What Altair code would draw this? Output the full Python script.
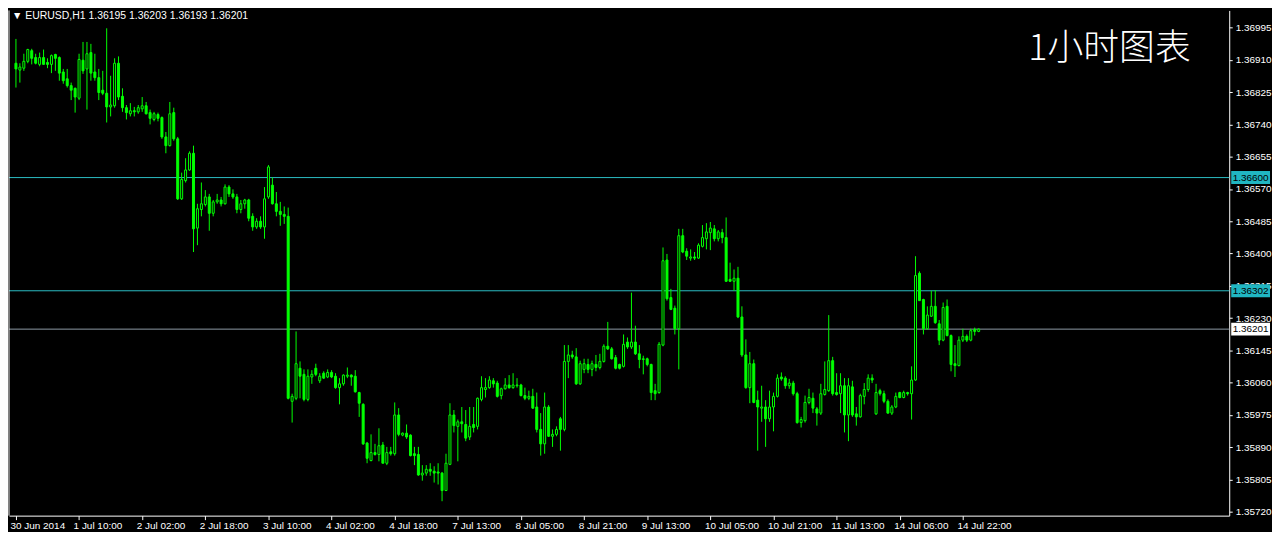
import json
import altair as alt
import pandas as pd

# ---------------- data (EURUSD H1) ----------------
opens = [
    1.36901, 1.36883, 1.36888, 1.36906, 1.36934, 1.36916, 1.36898, 1.36916, 1.36903, 1.36898,
    1.36924, 1.36916, 1.36878, 1.36860, 1.36842, 1.36835, 1.36809, 1.36909, 1.36886, 1.36929,
    1.36878, 1.36863, 1.36830, 1.36822, 1.36786, 1.36789, 1.36901, 1.36814, 1.36784, 1.36768,
    1.36776, 1.36773, 1.36781, 1.36789, 1.36771, 1.36753, 1.36766, 1.36758, 1.36707, 1.36684,
    1.36771, 1.36702, 1.36544, 1.36592, 1.36620, 1.36664, 1.36467, 1.36516, 1.36529, 1.36549,
    1.36506, 1.36536, 1.36541, 1.36531, 1.36575, 1.36557, 1.36549, 1.36516, 1.36531, 1.36541,
    1.36498, 1.36470, 1.36485, 1.36470, 1.36549, 1.36580, 1.36531, 1.36511, 1.36503, 1.36498,
    1.36011, 1.36019, 1.36098, 1.36082, 1.36016, 1.36075, 1.36098, 1.36065, 1.36085, 1.36075,
    1.36087, 1.36077, 1.36047, 1.36057, 1.36077, 1.36080, 1.36077, 1.36034, 1.36003, 1.35901,
    1.35855, 1.35876, 1.35871, 1.35896, 1.35848, 1.35878, 1.35873, 1.35975, 1.35922, 1.35927,
    1.35922, 1.35873, 1.35871, 1.35817, 1.35822, 1.35832, 1.35827, 1.35825, 1.35822, 1.35776,
    1.35845, 1.35975, 1.35945, 1.35957, 1.35950, 1.35917, 1.35950, 1.35945, 1.36016, 1.36042,
    1.36047, 1.36065, 1.36059, 1.36026, 1.36044, 1.36054, 1.36047, 1.36052, 1.36054, 1.36026,
    1.36019, 1.36024, 1.35996, 1.35937, 1.35899, 1.35996, 1.35919, 1.35924, 1.35965, 1.35937,
    1.36116, 1.36133, 1.36128, 1.36057, 1.36095, 1.36108, 1.36095, 1.36108, 1.36100, 1.36116,
    1.36156, 1.36149, 1.36126, 1.36108, 1.36103, 1.36167, 1.36154, 1.36167, 1.36136, 1.36121,
    1.36123, 1.36108, 1.36039, 1.36034, 1.36159, 1.36383, 1.36284, 1.36256, 1.36202, 1.36447,
    1.36406, 1.36388, 1.36391, 1.36388, 1.36419, 1.36439, 1.36455, 1.36465, 1.36439, 1.36455,
    1.36442, 1.36332, 1.36327, 1.36335, 1.36233, 1.36133, 1.36047, 1.36110, 1.36014, 1.35993,
    1.35996, 1.35965, 1.35996, 1.36024, 1.36075, 1.36072, 1.36052, 1.36059, 1.36031, 1.35955,
    1.35960, 1.36008, 1.36019, 1.35991, 1.35980, 1.36029, 1.36039, 1.36118, 1.36034, 1.36031,
    1.36052, 1.35975, 1.36049, 1.35978, 1.35970, 1.36024, 1.36042, 1.36072, 1.35978, 1.36039,
    1.36031, 1.36011, 1.35980, 1.35996, 1.36034, 1.36021, 1.36034, 1.36031, 1.36067, 1.36348,
    1.36279, 1.36202, 1.36235, 1.36261, 1.36215, 1.36172, 1.36261, 1.36184, 1.36110, 1.36105,
    1.36172, 1.36182, 1.36172, 1.36200, 1.36195,
]
highs = [
    1.36965, 1.36901, 1.36926, 1.36939, 1.36939, 1.36926, 1.36929, 1.36937, 1.36914, 1.36924,
    1.36926, 1.36919, 1.36886, 1.36886, 1.36850, 1.36837, 1.36926, 1.36957, 1.36957, 1.36952,
    1.36926, 1.36886, 1.36881, 1.36993, 1.36868, 1.36914, 1.36919, 1.36835, 1.36791, 1.36796,
    1.36786, 1.36791, 1.36812, 1.36799, 1.36779, 1.36773, 1.36771, 1.36761, 1.36720, 1.36799,
    1.36784, 1.36707, 1.36613, 1.36651, 1.36669, 1.36684, 1.36531, 1.36587, 1.36567, 1.36557,
    1.36541, 1.36557, 1.36549, 1.36582, 1.36580, 1.36569, 1.36557, 1.36541, 1.36544, 1.36544,
    1.36506, 1.36493, 1.36498, 1.36575, 1.36633, 1.36600, 1.36562, 1.36536, 1.36524, 1.36521,
    1.36031, 1.36195, 1.36116, 1.36095, 1.36095, 1.36093, 1.36110, 1.36085, 1.36090, 1.36095,
    1.36093, 1.36085, 1.36072, 1.36082, 1.36100, 1.36082, 1.36093, 1.36036, 1.36006, 1.35904,
    1.35924, 1.35899, 1.35940, 1.35904, 1.35891, 1.35891, 1.36008, 1.35993, 1.35929, 1.35950,
    1.35924, 1.35891, 1.35891, 1.35843, 1.35843, 1.35848, 1.35840, 1.35848, 1.35825, 1.35873,
    1.36006, 1.35988, 1.35963, 1.35996, 1.35988, 1.35996, 1.35996, 1.36021, 1.36077, 1.36072,
    1.36077, 1.36072, 1.36065, 1.36047, 1.36072, 1.36080, 1.36085, 1.36072, 1.36057, 1.36047,
    1.36039, 1.36044, 1.36034, 1.35980, 1.36034, 1.36001, 1.35937, 1.35945, 1.35970, 1.36159,
    1.36159, 1.36144, 1.36151, 1.36118, 1.36123, 1.36123, 1.36118, 1.36133, 1.36136, 1.36161,
    1.36220, 1.36154, 1.36133, 1.36110, 1.36187, 1.36179, 1.36297, 1.36210, 1.36159, 1.36131,
    1.36126, 1.36110, 1.36057, 1.36167, 1.36416, 1.36399, 1.36307, 1.36263, 1.36465, 1.36465,
    1.36414, 1.36411, 1.36404, 1.36427, 1.36475, 1.36480, 1.36483, 1.36475, 1.36462, 1.36465,
    1.36495, 1.36376, 1.36358, 1.36365, 1.36261, 1.36174, 1.36141, 1.36121, 1.36039, 1.36052,
    1.36014, 1.36039, 1.36034, 1.36082, 1.36087, 1.36077, 1.36070, 1.36065, 1.36036, 1.35970,
    1.36026, 1.36044, 1.36034, 1.35996, 1.36057, 1.36116, 1.36238, 1.36128, 1.36085, 1.36085,
    1.36072, 1.36072, 1.36065, 1.35996, 1.36031, 1.36059, 1.36082, 1.36082, 1.36057, 1.36044,
    1.36039, 1.36016, 1.36001, 1.36034, 1.36036, 1.36039, 1.36036, 1.36103, 1.36393, 1.36353,
    1.36281, 1.36261, 1.36302, 1.36304, 1.36225, 1.36271, 1.36279, 1.36187, 1.36159, 1.36182,
    1.36202, 1.36187, 1.36202, 1.36205, 1.36203,
]
lows = [
    1.36837, 1.36850, 1.36881, 1.36901, 1.36898, 1.36898, 1.36893, 1.36898, 1.36888, 1.36875,
    1.36881, 1.36855, 1.36847, 1.36837, 1.36804, 1.36771, 1.36804, 1.36873, 1.36779, 1.36855,
    1.36855, 1.36804, 1.36817, 1.36745, 1.36761, 1.36784, 1.36804, 1.36773, 1.36753, 1.36761,
    1.36761, 1.36768, 1.36773, 1.36766, 1.36740, 1.36748, 1.36748, 1.36702, 1.36664, 1.36682,
    1.36697, 1.36541, 1.36541, 1.36587, 1.36618, 1.36404, 1.36422, 1.36498, 1.36524, 1.36460,
    1.36498, 1.36531, 1.36524, 1.36529, 1.36549, 1.36544, 1.36506, 1.36506, 1.36518, 1.36485,
    1.36460, 1.36465, 1.36465, 1.36439, 1.36544, 1.36529, 1.36498, 1.36473, 1.36478, 1.36016,
    1.35955, 1.36014, 1.36019, 1.36011, 1.36011, 1.36057, 1.36077, 1.36059, 1.36070, 1.36072,
    1.36072, 1.36044, 1.36003, 1.36052, 1.36072, 1.36052, 1.36034, 1.35970, 1.35896, 1.35848,
    1.35853, 1.35868, 1.35853, 1.35848, 1.35843, 1.35868, 1.35868, 1.35919, 1.35919, 1.35912,
    1.35866, 1.35843, 1.35815, 1.35802, 1.35815, 1.35815, 1.35797, 1.35792, 1.35748, 1.35776,
    1.35843, 1.35929, 1.35853, 1.35929, 1.35906, 1.35909, 1.35929, 1.35937, 1.36011, 1.36021,
    1.36044, 1.36047, 1.36021, 1.36016, 1.36042, 1.36044, 1.36044, 1.36047, 1.36024, 1.36014,
    1.36014, 1.35991, 1.35929, 1.35868, 1.35873, 1.35917, 1.35891, 1.35919, 1.35881, 1.35932,
    1.36072, 1.36123, 1.36054, 1.36054, 1.36085, 1.36085, 1.36077, 1.36090, 1.36095, 1.36113,
    1.36146, 1.36121, 1.36095, 1.36095, 1.36100, 1.36149, 1.36149, 1.36133, 1.36098, 1.36082,
    1.36103, 1.36014, 1.36014, 1.36031, 1.36156, 1.36276, 1.36251, 1.36187, 1.36095, 1.36401,
    1.36383, 1.36381, 1.36383, 1.36386, 1.36416, 1.36411, 1.36409, 1.36432, 1.36432, 1.36427,
    1.36325, 1.36325, 1.36302, 1.36230, 1.36128, 1.36044, 1.36006, 1.36006, 1.35881, 1.35957,
    1.35891, 1.35957, 1.35932, 1.36021, 1.36065, 1.36044, 1.36044, 1.36026, 1.35952, 1.35942,
    1.35955, 1.36003, 1.35980, 1.35947, 1.35975, 1.36026, 1.36036, 1.36026, 1.36026, 1.35980,
    1.35929, 1.35906, 1.35970, 1.35947, 1.35968, 1.36003, 1.36036, 1.36059, 1.35975, 1.36026,
    1.36006, 1.35978, 1.35975, 1.35993, 1.36019, 1.36019, 1.36026, 1.35963, 1.36065, 1.36276,
    1.36187, 1.36200, 1.36233, 1.36215, 1.36159, 1.36169, 1.36182, 1.36090, 1.36075, 1.36103,
    1.36167, 1.36167, 1.36169, 1.36184, 1.36193,
]
closes = [
    1.36886, 1.36891, 1.36906, 1.36937, 1.36914, 1.36901, 1.36916, 1.36898, 1.36898, 1.36921,
    1.36914, 1.36875, 1.36855, 1.36842, 1.36830, 1.36812, 1.36911, 1.36881, 1.36926, 1.36875,
    1.36863, 1.36824, 1.36822, 1.36786, 1.36791, 1.36901, 1.36812, 1.36784, 1.36771, 1.36776,
    1.36773, 1.36784, 1.36789, 1.36768, 1.36756, 1.36768, 1.36756, 1.36707, 1.36684, 1.36768,
    1.36702, 1.36544, 1.36595, 1.36620, 1.36664, 1.36465, 1.36518, 1.36531, 1.36549, 1.36506,
    1.36536, 1.36541, 1.36531, 1.36575, 1.36557, 1.36549, 1.36516, 1.36531, 1.36541, 1.36493,
    1.36470, 1.36485, 1.36470, 1.36544, 1.36628, 1.36531, 1.36511, 1.36503, 1.36498, 1.36019,
    1.36024, 1.36110, 1.36077, 1.36016, 1.36077, 1.36082, 1.36082, 1.36077, 1.36072, 1.36087,
    1.36075, 1.36047, 1.36057, 1.36080, 1.36080, 1.36075, 1.36036, 1.36006, 1.35899, 1.35861,
    1.35876, 1.35871, 1.35894, 1.35848, 1.35876, 1.35873, 1.35975, 1.35924, 1.35927, 1.35917,
    1.35868, 1.35868, 1.35817, 1.35822, 1.35832, 1.35827, 1.35822, 1.35822, 1.35776, 1.35848,
    1.35975, 1.35947, 1.35957, 1.35952, 1.35914, 1.35945, 1.35942, 1.36019, 1.36047, 1.36047,
    1.36067, 1.36057, 1.36024, 1.36044, 1.36054, 1.36047, 1.36054, 1.36054, 1.36026, 1.36019,
    1.36024, 1.35993, 1.35937, 1.35899, 1.35996, 1.35919, 1.35924, 1.35937, 1.35937, 1.36116,
    1.36133, 1.36128, 1.36057, 1.36110, 1.36110, 1.36095, 1.36110, 1.36100, 1.36116, 1.36156,
    1.36149, 1.36123, 1.36098, 1.36098, 1.36161, 1.36154, 1.36167, 1.36136, 1.36121, 1.36123,
    1.36108, 1.36034, 1.36031, 1.36161, 1.36381, 1.36281, 1.36253, 1.36202, 1.36447, 1.36404,
    1.36393, 1.36391, 1.36388, 1.36422, 1.36442, 1.36457, 1.36467, 1.36439, 1.36457, 1.36442,
    1.36327, 1.36327, 1.36335, 1.36233, 1.36133, 1.36047, 1.36110, 1.36008, 1.35996, 1.35996,
    1.35965, 1.35996, 1.36024, 1.36072, 1.36070, 1.36052, 1.36059, 1.36031, 1.35955, 1.35963,
    1.36008, 1.36021, 1.35993, 1.35980, 1.36031, 1.36042, 1.36118, 1.36031, 1.36029, 1.36052,
    1.35975, 1.36052, 1.35975, 1.35970, 1.36026, 1.36042, 1.36072, 1.36067, 1.36034, 1.36031,
    1.36011, 1.35980, 1.35996, 1.36024, 1.36021, 1.36034, 1.36031, 1.36067, 1.36342, 1.36276,
    1.36202, 1.36238, 1.36261, 1.36218, 1.36172, 1.36258, 1.36184, 1.36108, 1.36105, 1.36172,
    1.36182, 1.36172, 1.36197, 1.36195, 1.36201,
]

time_tick_bars = [0, 16, 32, 48, 64, 80, 96, 112, 128, 144, 160, 176, 192, 208, 224, 240]
time_tick_labels = [
    "30 Jun 2014", "1 Jul 10:00", "2 Jul 02:00", "2 Jul 18:00", "3 Jul 10:00",
    "4 Jul 02:00", "4 Jul 18:00", "7 Jul 13:00", "8 Jul 05:00", "8 Jul 21:00",
    "9 Jul 13:00", "10 Jul 05:00", "10 Jul 21:00", "11 Jul 13:00", "14 Jul 06:00",
    "14 Jul 22:00",
]
price_ticks = [1.35720, 1.35805, 1.35890, 1.35975, 1.36060, 1.36145, 1.36230, 1.36315,
               1.36400, 1.36485, 1.36570, 1.36655, 1.36740, 1.36825, 1.36910, 1.36995]
level_prices = [1.36600, 1.36302]
bid_price = 1.36201
header_text = "\u25bc EURUSD,H1  1.36195 1.36203 1.36193 1.36201"
title_text = "1小时图表"

# ---------------- layout / style ----------------
W, H = 1227, 508
Y_DOM = [1.35710, 1.37040]
X_DOM = [-0.5, 306.25]
GREEN = "#00ff00"
CYAN_LINE = "#2bbcc4"
CYAN_BOX = "#20b6c2"
BID_LINE = "#8e9ba6"
FONT = "Liberation Sans"

n = len(closes)
df = pd.DataFrame({"i": list(range(n)), "o": opens, "h": highs, "l": lows, "c": closes})
df["fillc"] = ["black" if c > o else GREEN for o, c in zip(opens, closes)]

xscale = alt.Scale(domain=X_DOM, nice=False, zero=False)
yscale = alt.Scale(domain=Y_DOM, nice=False, zero=False)

label_expr = json.dumps(time_tick_labels) + "[round(datum.value / 16)]"
x_axis = alt.Axis(
    values=time_tick_bars, labelExpr=label_expr, orient="bottom", title=None,
    labelAlign="left", labelBaseline="top", labelFontSize=10, labelFont=FONT,
    labelColor="white", tickColor="white", domainColor="white", tickSize=4,
    labelPadding=1, labelOffset=-6, grid=False, labelOverlap=False, labelFlush=False,
)
y_axis = alt.Axis(
    values=price_ticks, format=".5f", orient="right", title=None,
    labelFontSize=10, labelFont=FONT, labelColor="white", tickColor="white",
    domainColor="white", tickSize=3, labelPadding=3, grid=False,
    labelOverlap=False, labelFlush=False,
)


def X(field):
    return alt.X(field, type="quantitative", scale=xscale, axis=x_axis)


def Y(field):
    return alt.Y(field, type="quantitative", scale=yscale, axis=y_axis)


base = alt.Chart(df)

wicks = base.mark_rule(color=GREEN, strokeWidth=1).encode(
    x=X("i"), y=Y("l"), y2="h:Q",
)
bodies = base.mark_bar(size=2, stroke=GREEN, strokeWidth=1).encode(
    x=X("i"), y=Y("o"), y2="c:Q",
    fill=alt.Fill("fillc:N", scale=None),
)

levels_df = pd.DataFrame({
    "p": level_prices + [bid_price],
    "linec": [CYAN_LINE] * len(level_prices) + [BID_LINE],
    "boxc": [CYAN_BOX] * len(level_prices) + ["white"],
})
half = 6.5 * (Y_DOM[1] - Y_DOM[0]) / H
levels_df["top"] = levels_df["p"] + half
levels_df["bot"] = levels_df["p"] - half
levels_df["txt"] = [f"{p:.5f}" for p in levels_df["p"]]

lines = alt.Chart(levels_df).mark_rule(strokeWidth=1).encode(
    y=Y("p"), color=alt.Color("linec:N", scale=None),
)
boxes = alt.Chart(levels_df).mark_rect(clip=False).encode(
    x=alt.value(W + 2), x2=alt.value(W + 41),
    y=Y("top"), y2="bot:Q",
    fill=alt.Fill("boxc:N", scale=None),
)
box_text = alt.Chart(levels_df).mark_text(
    clip=False, align="center", baseline="middle", fontSize=10, font=FONT, color="black"
).encode(
    x=alt.value(W + 21.5), y=Y("p"), text="txt:N",
)

one = pd.DataFrame({"k": [0]})
left_border = alt.Chart(one).mark_rule(color="white", strokeWidth=1).encode(
    x=alt.value(0), y=alt.value(0), y2=alt.value(H)
)
header = alt.Chart(one).mark_text(
    align="left", baseline="middle", fontSize=10.5, font=FONT, color="white"
).encode(x=alt.value(3), y=alt.value(6), text=alt.value(header_text))
title = alt.Chart(one).mark_text(
    align="left", baseline="middle", fontSize=36, font="Noto Sans CJK SC",
    fontWeight=300, color="white"
).encode(x=alt.value(1025), y=alt.value(39), text=alt.value(title_text))

chart = alt.layer(
    lines, wicks, bodies, left_border, boxes, box_text, header, title
).properties(
    width=W, height=H, background="black",
    padding={"left": 0, "top": 0, "right": 0, "bottom": 0},
).configure_view(stroke=None)

chart.save("out.html", embed_options={"renderer": "svg", "actions": False})
